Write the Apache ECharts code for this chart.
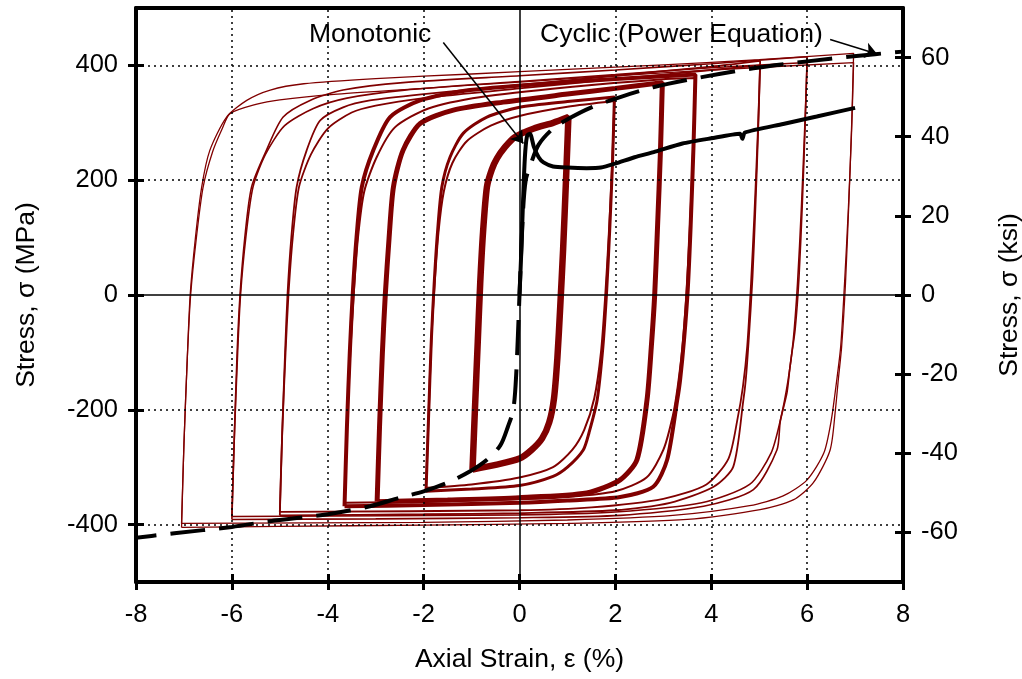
<!DOCTYPE html>
<html><head><meta charset="utf-8">
<script src="https://cdn.jsdelivr.net/npm/echarts@6/dist/echarts.min.js"></script>
<style>html,body{margin:0;padding:0;background:#fff}#c{width:1022px;height:679px}</style>
</head><body><div id="c"></div>
<script>
// ---- tick labels ----
const xTicks = [-8, -6, -4, -2, 0, 2, 4, 6, 8];
const mpaTicks = [-400, -200, 0, 200, 400];
const ksiTicks = [-60, -40, -20, 0, 20, 40, 60];
const xGrid = [-6, -4, -2, 2, 4, 6];
const yGrid = [-400, -200, 200, 400];
const MPA_PER_KSI = 6.894757;

// ---- hysteresis loops [strain %, stress MPa] ----
const loop1 = [[-0.98,-304],[-0.93,-200],[-0.87,-80],[-0.82,20],[-0.76,110],[-0.68,188],[-0.58,218],[-0.47,238],[-0.3,258],[-0.1,275],[0.3,290],[0.7,300],[1.02,310],
  [0.97,200],[0.91,80],[0.85,-20],[0.79,-110],[0.72,-180],[0.62,-222],[0.47,-250],[0.25,-270],[0,-285],[-0.5,-296],[-0.98,-304]];
const loop2 = [[-1.95,-342],[-1.9,-220],[-1.84,-80],[-1.78,20],[-1.71,110],[-1.62,188],[-1.45,240],[-1.17,282],[-0.68,310],[0,327],[1,337],[1.98,345],
  [1.94,230],[1.88,110],[1.82,10],[1.74,-90],[1.62,-183],[1.45,-240],[1.33,-270],[1.0,-300],[0.7,-316],[0,-332],[-1,-338],[-1.95,-342]];
const loop2b = [[-1.95,-336],[-1.9,-220],[-1.84,-80],[-1.77,20],[-1.69,110],[-1.58,180],[-1.4,230],[-1.1,268],[-0.6,295],[0,312],[1,328],[1.98,338],
  [1.93,220],[1.86,100],[1.79,0],[1.7,-100],[1.56,-180],[1.35,-235],[1.1,-270],[0.7,-300],[0,-318],[-1,-330],[-1.95,-336]];
const loop3 = [[-2.97,-360],[-2.92,-230],[-2.86,-100],[-2.8,0],[-2.72,100],[-2.63,188],[-2.43,252],[-2.07,299],[-1.38,322],[-0.34,336],[1,350],[2,360],[2.98,370],
  [2.94,250],[2.88,120],[2.82,0],[2.75,-90],[2.66,-183],[2.45,-287],[2.1,-322],[1.4,-345],[0,-353],[-1.5,-357],[-2.97,-360]];
const loop37 = [[-3.65,-368],[-3.6,-230],[-3.54,-100],[-3.48,0],[-3.4,100],[-3.29,188],[-3.05,252],[-2.7,310],[-2.07,339],[-1.03,357],[1,371],[3,381],[3.67,384],
  [3.63,260],[3.57,120],[3.51,10],[3.43,-80],[3.35,-148],[3.29,-183],[3.08,-287],[2.79,-334],[2.1,-352],[1,-358],[0,-362],[-2,-366],[-3.65,-368]];
const loop37b = [[-3.65,-362],[-3.6,-230],[-3.53,-100],[-3.46,0],[-3.37,100],[-3.24,180],[-2.98,240],[-2.6,292],[-1.9,325],[-0.8,345],[1,362],[3,376],[3.67,378],
  [3.62,250],[3.55,110],[3.48,0],[3.4,-90],[3.3,-160],[3.2,-210],[3.0,-270],[2.65,-318],[2.0,-342],[1,-352],[0,-356],[-2,-360],[-3.65,-362]];
const loop5 = [[-5.0,-384],[-4.95,-240],[-4.89,-100],[-4.84,0],[-4.76,100],[-4.65,188],[-4.44,252],[-4.16,304],[-3.68,327],[-3.12,339],[-2,350],[0,366],[2,382],[4,398],[5.02,408],
  [4.98,290],[4.92,150],[4.86,30],[4.78,-80],[4.72,-148],[4.67,-183],[4.46,-299],[4.05,-334],[3.14,-362],[2,-375],[0,-380],[-2,-382],[-5.0,-384]];
const loop5b = [[-5.0,-378],[-4.95,-240],[-4.88,-100],[-4.82,0],[-4.73,100],[-4.6,188],[-4.35,245],[-4.0,290],[-3.5,318],[-3.0,330],[-2,343],[0,360],[2,376],[4,392],[5.02,400],
  [4.97,280],[4.9,140],[4.83,20],[4.75,-90],[4.66,-160],[4.55,-215],[4.36,-285],[3.9,-330],[3.0,-355],[1.5,-370],[0,-375],[-5.0,-378]];
const loop6 = [[-6.0,-391],[-5.95,-250],[-5.89,-100],[-5.83,0],[-5.73,100],[-5.59,188],[-5.28,252],[-4.93,310],[-4.37,339],[-3.68,357],[-2.43,370],[0,382],[2,392],[4,403],[6.0,415],
  [5.96,300],[5.9,160],[5.83,30],[5.75,-60],[5.65,-120],[5.58,-170],[5.44,-220],[5.37,-270],[4.88,-339],[3.84,-368],[2.1,-384],[0,-388],[-3,-390],[-6.0,-391]];
const loop6b = [[-6.0,-386],[-5.95,-250],[-5.88,-100],[-5.82,0],[-5.71,100],[-5.56,188],[-5.3,245],[-4.9,295],[-4.3,325],[-3.6,343],[-2.4,357],[0,372],[2,384],[4,396],[6.0,405],
  [5.95,290],[5.88,150],[5.8,20],[5.71,-80],[5.6,-150],[5.45,-215],[5.25,-275],[4.8,-330],[3.8,-362],[2,-378],[0,-383],[-6.0,-386]];
const loop7 = [[-7.05,-405],[-7.0,-260],[-6.93,-110],[-6.87,0],[-6.76,100],[-6.63,188],[-6.46,252],[-6.11,310],[-5.69,339],[-5.2,357],[-4.5,368],[-3,377],[-1,385],[1,393],[3,401],[5,410],[6.97,421],
  [6.93,300],[6.87,160],[6.8,20],[6.72,-90],[6.65,-148],[6.59,-200],[6.48,-270],[6.13,-327],[5.71,-357],[5.02,-374],[3.5,-391],[1,-398],[-2,-401],[-5,-403],[-7.05,-405]];
const loop7b = [[-7.05,-398],[-7.0,-260],[-6.93,-110],[-6.86,0],[-6.74,100],[-6.6,188],[-6.4,250],[-6.2,290],[-6.04,316],[-5.5,332],[-5.0,340],[-3.8,350],[-2,360],[0,371],[2,382],[4,392],[6.97,405],
  [6.93,290],[6.86,150],[6.78,20],[6.7,-90],[6.6,-160],[6.5,-220],[6.35,-275],[6.0,-322],[5.5,-350],[4.8,-367],[3.2,-384],[1,-392],[-2,-396],[-7.05,-398]];

// ---- cyclic stress-strain curve (power equation), dashed ----
const cyclicCurve = [[-8.3,-426],[-7.2,-415],[-6,-404],[-5.2,-394],[-4,-382],[-3.12,-368],[-2.49,-353],[-2,-342],[-1.5,-327],[-1.03,-307],[-0.68,-287],[-0.4,-262],[-0.24,-229],[-0.13,-200],[-0.07,-140],[0,0],
  [0.07,140],[0.13,200],[0.24,229],[0.4,262],[0.7,290],[1.02,307],[1.5,327],[2,342],[2.79,362],[3.83,380],[4.88,395],[6,407],[6.97,416],[8.0,424]];

// ---- monotonic curve ----
const monotonicCurve = [[0,0],[0.03,60],[0.06,130],[0.09,200],[0.12,250],[0.16,278],[0.22,281],[0.3,258],[0.4,240],[0.5,231],[0.7,224],[1.0,222],[1.4,221],[1.7,222],[2.0,229],[2.4,240],[2.8,249],[3.4,264],[4.0,273],[4.6,281],[4.65,272],[4.7,283],[5.5,298],[6.2,311],[7.0,326]];

// ---- annotations ----
const monoArrow = [[-1.59, 440], [0.08, 264]];
const cycArrow = [[6.48, 445], [7.46, 420]];

const FONT = '"Liberation Sans", Arial, sans-serif';
const RED = '#800000';
const ksiMax = 500 / MPA_PER_KSI;
const txt = {fontSize: 25.5, color: '#000', fontFamily: FONT};
const ttl = {fontSize: 26.5, color: '#000', fontFamily: FONT};

function loopSeries(data, w) {
  return {type: 'line', data: data, xAxisIndex: 0, yAxisIndex: 0, showSymbol: false, smooth: 0.25,
    lineStyle: {color: RED, width: w}, z: 3, silent: true, clip: true};
}

const chart = echarts.init(document.getElementById('c'));
chart.setOption({
  animation: false,
  grid: {left: 136, right: 119, top: 8, bottom: 97, containLabel: false, outerBoundsMode: 'none'},
  xAxis: [
    {type: 'value', min: -8, max: 8, interval: 2, position: 'bottom',
      axisLine: {onZero: false, lineStyle: {color: '#000', width: 4}},
      axisTick: {inside: false, length: 8, lineStyle: {width: 3, color: '#000'}},
      axisLabel: Object.assign({margin: 20}, txt), splitLine: {show: false},
      name: 'Axial Strain, ε (%)', nameLocation: 'middle', nameGap: 64, nameTextStyle: ttl},
    {type: 'value', min: -8, max: 8, interval: 2, position: 'bottom',
      axisLine: {show: false, onZero: false},
      axisTick: {inside: true, length: 8, lineStyle: {width: 3, color: '#000'}},
      axisLabel: {show: false}, splitLine: {show: false}},
    {type: 'value', min: -8, max: 8, interval: 2, position: 'top',
      axisLine: {onZero: false, lineStyle: {color: '#000', width: 4}},
      axisTick: {show: false}, axisLabel: {show: false}, splitLine: {show: false}}
  ],
  yAxis: [
    {type: 'value', min: -500, max: 500, position: 'left',
      axisLine: {onZero: false, lineStyle: {color: '#000', width: 4}},
      axisTick: {customValues: mpaTicks, inside: false, length: 8, lineStyle: {width: 3, color: '#000'}},
      axisLabel: Object.assign({customValues: mpaTicks, margin: 18}, txt), splitLine: {show: false},
      name: 'Stress, σ (MPa)', nameLocation: 'middle', nameGap: 96, nameTextStyle: ttl},
    {type: 'value', min: -500, max: 500, position: 'left',
      axisLine: {show: false, onZero: false},
      axisTick: {customValues: mpaTicks, inside: true, length: 8, lineStyle: {width: 3, color: '#000'}},
      axisLabel: {show: false}, splitLine: {show: false}},
    {type: 'value', min: -ksiMax, max: ksiMax, position: 'right',
      axisLine: {onZero: false, lineStyle: {color: '#000', width: 4}},
      axisTick: {customValues: ksiTicks, inside: false, length: 8, lineStyle: {width: 3, color: '#000'}},
      axisLabel: Object.assign({customValues: ksiTicks, margin: 18}, txt), splitLine: {show: false},
      name: 'Stress, σ (ksi)', nameLocation: 'middle', nameGap: 93, nameTextStyle: ttl},
    {type: 'value', min: -ksiMax, max: ksiMax, position: 'right',
      axisLine: {show: false, onZero: false},
      axisTick: {customValues: ksiTicks, inside: true, length: 8, lineStyle: {width: 3, color: '#000'}},
      axisLabel: {show: false}, splitLine: {show: false}}
  ],
  series: [
    {type: 'line', data: [], z: 1, silent: true,
      markLine: {silent: true, symbol: ['none', 'none'], label: {show: false}, animation: false,
        lineStyle: {type: [2, 4], color: '#000', width: 1.5},
        data: xGrid.map(v => ({xAxis: v})).concat(yGrid.map(v => ({yAxis: v})))}},
    loopSeries(loop7, 1.3), loopSeries(loop7b, 1.3),
    loopSeries(loop6, 1.6), loopSeries(loop6b, 1.6),
    loopSeries(loop5, 1.8), loopSeries(loop5b, 1.8),
    loopSeries(loop37, 4), loopSeries(loop37b, 2),
    loopSeries(loop3, 5),
    loopSeries(loop2, 3), loopSeries(loop2b, 2),
    loopSeries(loop1, 6.5),
    {type: 'line', data: cyclicCurve, showSymbol: false, smooth: 0.3, z: 5, silent: true,
      lineStyle: {color: '#000', width: 4, type: [35, 14]}},
    {type: 'line', data: monotonicCurve, showSymbol: false, smooth: 0.2, z: 6, silent: true,
      lineStyle: {color: '#000', width: 4}},
    {type: 'line', data: [], z: 7, silent: true,
      markLine: {silent: true, symbol: ['none', 'none'], label: {show: false}, animation: false,
        lineStyle: {type: 'solid', color: '#000', width: 1.5},
        data: [{xAxis: 0}, {yAxis: 0},
          [{coord: monoArrow[0], symbol: 'none'}, {coord: monoArrow[1], symbol: 'arrow', symbolSize: 12}],
          [{coord: cycArrow[0], symbol: 'none'}, {coord: cycArrow[1], symbol: 'arrow', symbolSize: 12}]]}}
  ],
  graphic: [
    {type: 'text', left: 309, top: 21, style: {text: 'Monotonic', font: '26.5px "Liberation Sans", Arial', fill: '#000'}},
    {type: 'text', left: 540, top: 21, style: {text: 'Cyclic (Power Equation)', font: '26.5px "Liberation Sans", Arial', fill: '#000'}}
  ]
});
</script></body></html>
